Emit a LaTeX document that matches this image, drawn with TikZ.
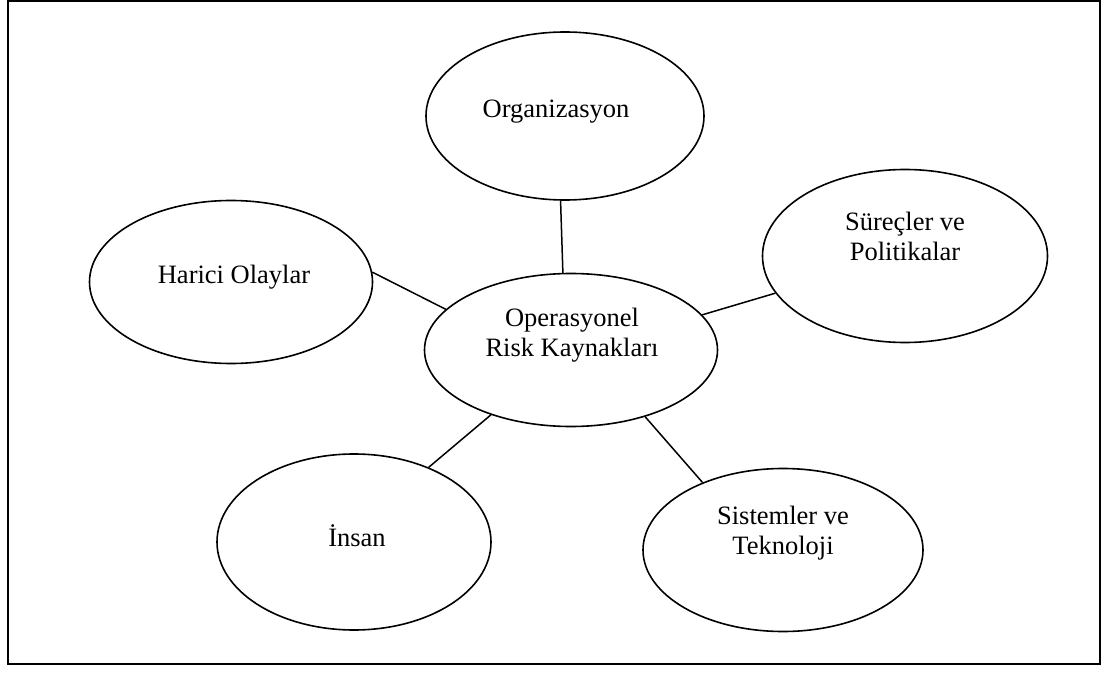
\documentclass[tikz,border=0pt]{standalone}
\usepackage{fontspec}
\setmainfont{Liberation Serif}
\usetikzlibrary{shapes.geometric}

\begin{document}
\begin{tikzpicture}[x=1pt,y=-1pt,
	blob/.style={draw, ellipse, line width=1.6pt, inner sep=0pt},
	word/.style={align=center, font=\fontsize{26.5}{30}\selectfont},
	link/.style={line width=1.5pt}]
	\useasboundingbox (0,0) rectangle (1103,676);
	\draw[line width=2.2pt] (8,1) rectangle (1100,664);
	% ellipses
	\node[blob, minimum width=278pt, minimum height=168pt] (org) at (565,116) {};
	\node[blob, minimum width=285pt, minimum height=173pt] (surec) at (905,256) {};
	\node[blob, minimum width=283pt, minimum height=163pt] (haric) at (231,282) {};
	\node[blob, minimum width=293pt, minimum height=153pt] (risk) at (571,350) {};
	\node[blob, minimum width=274pt, minimum height=176pt] (insan) at (354,542) {};
	\node[blob, minimum width=280pt, minimum height=163pt] (sistem) at (783,550) {};
	% texts
	\node[word] (orgtxt) at (556,112) {Organizasyon};
	\node[word] (surectxt) at (905,236) {Süreçler ve\\Politikalar};
	\node[word] (harictxt) at (234,277) {Harici Olaylar};
	\node[word] (risktxt) at (572,335) {Operasyonel\\Risk Kaynakları};
	\node[word] (insantxt) at (357,536) {İnsan};
	\node[word] (sistemtxt) at (783,533) {Sistemler ve\\Teknoloji};
	% connectors
	\draw[link] (org.267) -- (risk.96);
	\draw[link] (haric.4) -- (risk.162);
	\draw[link] (risk.15) -- (surec.196);
	\draw[link] (risk.219) -- (insan.45);
	\draw[link] (risk.-42) -- (sistem.140);
\end{tikzpicture}
\end{document}
